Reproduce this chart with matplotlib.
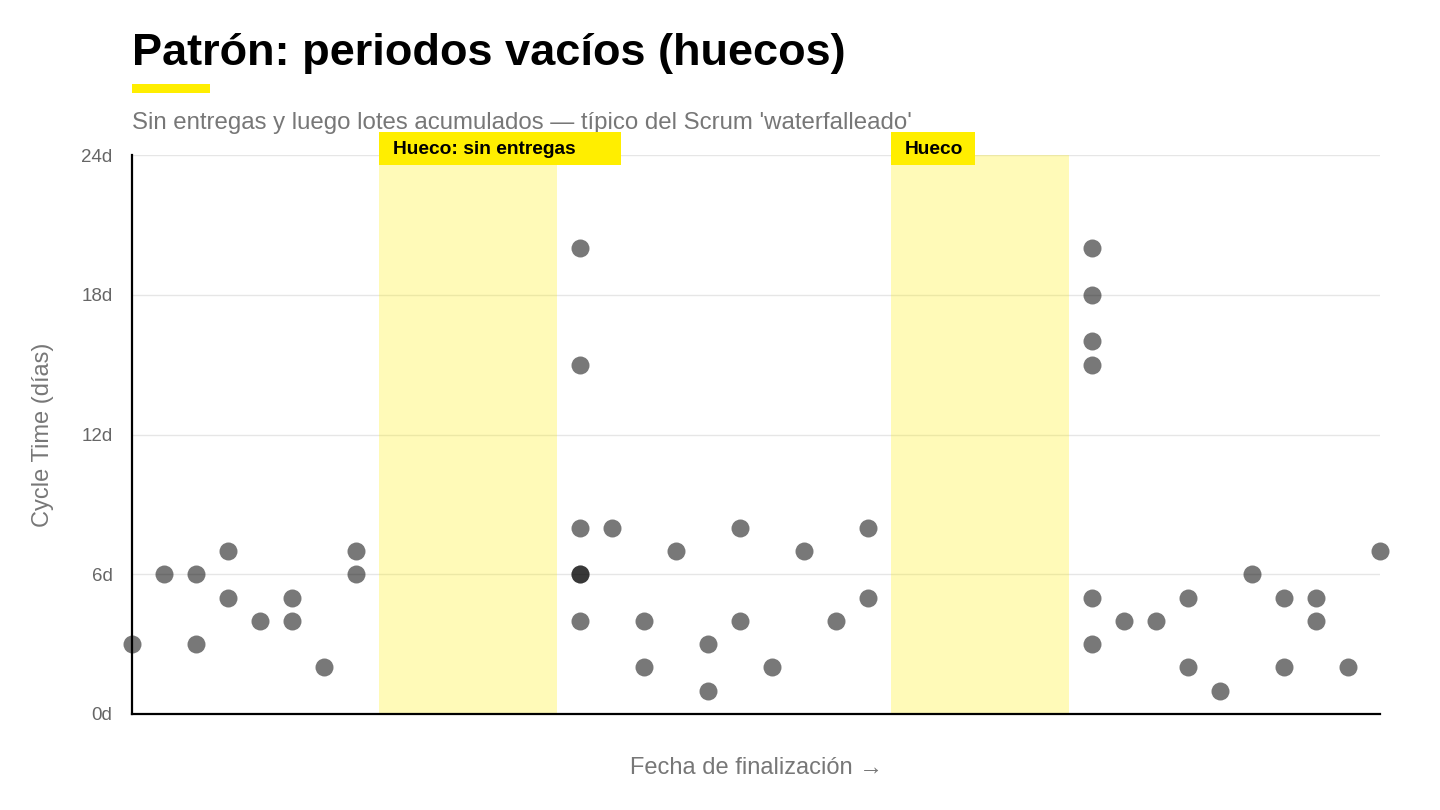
import matplotlib.pyplot as plt
from matplotlib.patches import Rectangle

plt.rcParams['font.family'] = ['Liberation Sans', 'DejaVu Sans']

# datos: dia de finalizacion (indice) y cycle time en dias
dias = [0, 1, 2, 2, 3, 3, 4, 5, 5, 6, 7, 7,
        14, 14, 14, 14, 14, 14, 15, 16, 16, 17, 18, 18, 19, 19, 20, 21, 22, 23, 23,
        30, 30, 30, 30, 30, 30, 31, 32, 33, 33, 34, 35, 36, 36, 37, 37, 38, 39]
cycle_time = [3, 6, 6, 3, 7, 5, 4, 5, 4, 2, 7, 6,
              20, 15, 8, 6, 6, 4, 8, 4, 2, 7, 3, 1, 8, 4, 2, 7, 4, 8, 5,
              20, 18, 16, 15, 5, 3, 4, 4, 5, 2, 1, 6, 5, 2, 5, 4, 2, 7]

huecos_inicio = [7.73, 23.72]
huecos_fin = [13.29, 29.28]
huecos_texto = ["Hueco: sin entregas", "Hueco"]

y_ticks = [0, 6, 12, 18, 24]
y_labels = ["0d", "6d", "12d", "18d", "24d"]

amarillo = "#FFEE00"

fig = plt.figure(figsize=(14.4, 8.1), dpi=100)
ax = fig.add_axes([132/1440, 1-714/810, (1380-132)/1440, (714-155)/810])

ax.set_xlim(0, 39)
ax.set_ylim(0, 24)

for a, b in zip(huecos_inicio, huecos_fin):
    ax.axvspan(a, b, color=amarillo, alpha=0.28, lw=0, zorder=1)

ax.scatter(dias, cycle_time, s=168, color="black", alpha=0.53, linewidths=0,
           zorder=3, clip_on=False)

ax.set_yticks(y_ticks)
ax.set_yticklabels(y_labels)
ax.set_xticks([])
ax.tick_params(axis="y", length=0, pad=14, labelsize=13.5, labelcolor="#666666")
ax.grid(axis="y", color="#e6e6e6", lw=1, zorder=0)
ax.set_axisbelow(True)

for s in ["top", "right"]:
    ax.spines[s].set_visible(False)
for s in ["left", "bottom"]:
    ax.spines[s].set_linewidth(1.6)
    ax.spines[s].set_color("black")
    ax.spines[s].set_zorder(4)

ax.set_xlabel("Fecha de finalización →", fontsize=17, color="#777777", labelpad=31)
ax.set_ylabel("Cycle Time (días)", fontsize=17, color="#777777", labelpad=20)

# titulo y subtitulo
fig.text(132/1440, 1-65/810, "Patrón: periodos vacíos (huecos)", fontsize=32.5,
         fontweight="bold", color="black", va="baseline", ha="left")
fig.add_artist(Rectangle((132/1440, 1-93/810), 78/1440, 9/810,
                         transform=fig.transFigure, color=amarillo, lw=0))
fig.text(132/1440, 1-129/810,
         "Sin entregas y luego lotes acumulados — típico del Scrum 'waterfalleado'",
         fontsize=17.3, color="#777777", va="baseline", ha="left")

# etiquetas de los huecos (ancho de caja estimado por numero de caracteres)
for x0, txt in zip(huecos_inicio, huecos_texto):
    px = ax.transData.transform((x0, 0))[0]
    ancho = 27 + 11.3 * len(txt)
    fig.add_artist(Rectangle((px/1440, 1-165/810), ancho/1440, 33/810,
                             transform=fig.transFigure, color=amarillo, lw=0, zorder=5))
    fig.text((px + 14)/1440, 1-150/810, txt, fontsize=13.8, fontweight="bold",
             color="black", va="center", ha="left", zorder=6)

fig.savefig("out.png", dpi=100)
